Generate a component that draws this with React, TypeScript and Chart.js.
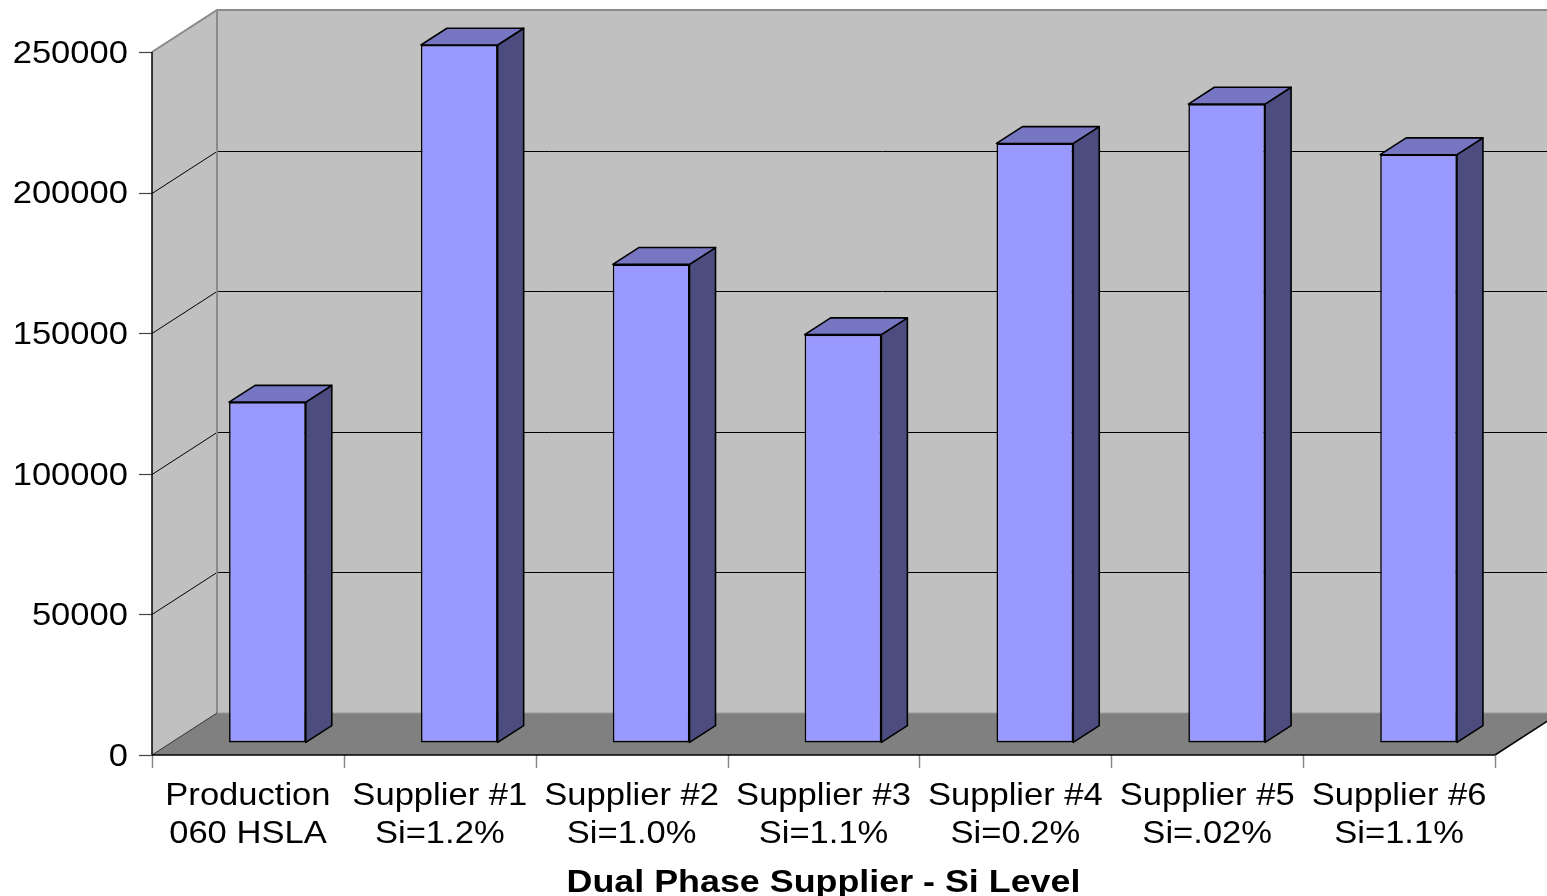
import React, { useEffect, useRef } from "react";
import { Chart, registerables } from "chart.js";

Chart.register(...registerables);

// ---- data ----
const categories: string[][] = [
  ["Production", "060 HSLA"],
  ["Supplier #1", "Si=1.2%"],
  ["Supplier #2", "Si=1.0%"],
  ["Supplier #3", "Si=1.1%"],
  ["Supplier #4", "Si=0.2%"],
  ["Supplier #5", "Si=.02%"],
  ["Supplier #6", "Si=1.1%"],
];
const values: number[] = [121000, 248000, 170000, 145000, 213000, 227000, 209000];
const yMin = 0;
const yMax = 250000;
const yStep = 50000;
const xAxisTitle = "Dual Phase Supplier - Si Level";

// ---- style ----
const DEPTH_X = 65;
const DEPTH_Y = -42;
const BAR_FRONT = 0.3;
const BAR_DEPTH = 0.4;
const FONT = '"Liberation Sans", Arial, sans-serif';
const STRETCH = 1.08;
const TITLE_STRETCH = 1.12;
const WALL = "#C0C0C0";
const FLOOR = "#808080";
const BAR_FRONT_COLOR = "#9999FF";
const BAR_TOP_COLOR = "#7676C2";
const BAR_SIDE_COLOR = "#4C4C7E";

function poly(ctx: CanvasRenderingContext2D, pts: number[][], fill?: string, stroke?: string, lw = 1) {
  ctx.beginPath();
  ctx.moveTo(pts[0][0], pts[0][1]);
  for (let i = 1; i < pts.length; i++) ctx.lineTo(pts[i][0], pts[i][1]);
  ctx.closePath();
  if (fill) {
    ctx.fillStyle = fill;
    ctx.fill();
  }
  if (stroke) {
    ctx.strokeStyle = stroke;
    ctx.lineWidth = lw;
    ctx.stroke();
  }
}

function line(ctx: CanvasRenderingContext2D, pts: number[][], color: string, lw: number) {
  ctx.beginPath();
  ctx.moveTo(pts[0][0], pts[0][1]);
  for (let i = 1; i < pts.length; i++) ctx.lineTo(pts[i][0], pts[i][1]);
  ctx.strokeStyle = color;
  ctx.lineWidth = lw;
  ctx.stroke();
}

function stretchedText(
  ctx: CanvasRenderingContext2D,
  text: string,
  x: number,
  y: number,
  align: CanvasTextAlign,
  font: string,
  stretch: number
) {
  ctx.save();
  ctx.translate(x, y);
  ctx.scale(stretch, 1);
  ctx.font = font;
  ctx.textAlign = align;
  ctx.textBaseline = "middle";
  ctx.fillStyle = "#000";
  ctx.fillText(text, 0, 0);
  ctx.restore();
}

const excel3d = {
  id: "excel3d",
  beforeDatasetsDraw(chart: any) {
    const ctx: CanvasRenderingContext2D = chart.ctx;
    const { left: L, right: R, top: T, bottom: B } = chart.chartArea;
    const ys = chart.scales.y;
    const dx = DEPTH_X,
      dy = DEPTH_Y;
    ctx.save();
    ctx.lineJoin = "miter";
    // walls
    poly(ctx, [[L, T], [L + dx, T + dy], [L + dx, B + dy], [L, B]], WALL);
    poly(ctx, [[L + dx, T + dy], [R + dx, T + dy], [R + dx, B + dy], [L + dx, B + dy]], WALL);
    // floor
    poly(ctx, [[L, B], [L + dx, B + dy], [R + dx, B + dy], [R, B]], FLOOR);
    line(ctx, [[L + dx, B + dy], [R + dx, B + dy]], "#9A9A9A", 1);
    // gridlines
    ys.ticks.forEach((t: any) => {
      if (t.value <= yMin || t.value >= yMax) return;
      const y = Math.round(ys.getPixelForValue(t.value)) + 0.5;
      line(ctx, [[L, y], [L + dx, y + dy], [R + dx, y + dy]], "#000", 1);
    });
    // wall edges
    line(ctx, [[L, T], [L + dx, T + dy], [R + dx, T + dy]], "#8A8A8A", 2);
    line(ctx, [[L + dx, T + dy], [L + dx, B + dy]], "#8A8A8A", 2);
    line(ctx, [[L, B], [L + dx, B + dy]], "#333", 1);
    line(ctx, [[R, B], [R + dx, B + dy]], "#000", 1.5);
    // y ticks
    ys.ticks.forEach((t: any) => {
      const y = Math.round(ys.getPixelForValue(t.value)) + 0.5;
      line(ctx, [[L - 13, y], [L, y]], "#444", 1.2);
    });
    // x ticks
    const n = categories.length;
    for (let i = 0; i <= n; i++) {
      const x = Math.round(L + ((R - L) * i) / n) + 0.5;
      line(ctx, [[x, B], [x, B + 13]], "#888", 1.5);
    }
    // axis lines
    line(ctx, [[L, T], [L, B]], "#000", 1.5);
    line(ctx, [[L, B], [R, B]], "#000", 1.5);
    ctx.restore();

    ctx.save();
    ctx.translate(DEPTH_X * BAR_FRONT, DEPTH_Y * BAR_FRONT);
  },
  afterDatasetsDraw(chart: any) {
    const ctx: CanvasRenderingContext2D = chart.ctx;
    ctx.restore();
    const ox = DEPTH_X * BAR_FRONT,
      oy = DEPTH_Y * BAR_FRONT;
    const sx = DEPTH_X * BAR_DEPTH,
      sy = DEPTH_Y * BAR_DEPTH;
    ctx.save();
    ctx.lineJoin = "round";
    chart.getDatasetMeta(0).data.forEach((el: any) => {
      const p = el.getProps(["x", "y", "base", "width"], true);
      const left = p.x - p.width / 2 + ox;
      const right = p.x + p.width / 2 + ox;
      const top = Math.min(p.y, p.base) + oy;
      const bottom = Math.max(p.y, p.base) + oy;
      poly(ctx, [[right, top], [right + sx, top + sy], [right + sx, bottom + sy], [right, bottom]], BAR_SIDE_COLOR, "#000", 1.6);
      poly(ctx, [[left, top], [left + sx, top + sy], [right + sx, top + sy], [right, top]], BAR_TOP_COLOR, "#000", 1.6);
    });
    ctx.restore();
  },
  afterDraw(chart: any) {
    const ctx: CanvasRenderingContext2D = chart.ctx;
    const { left: L, right: R, bottom: B } = chart.chartArea;
    const ys = chart.scales.y;
    const xs = chart.scales.x;
    const font = `32px ${FONT}`;
    ys.ticks.forEach((t: any) => {
      const y = ys.getPixelForValue(t.value);
      stretchedText(ctx, String(t.value), L - 24, y + 2, "right", font, STRETCH);
    });
    categories.forEach((lab, i) => {
      const x = xs.getPixelForValue(i);
      lab.forEach((s, j) => {
        stretchedText(ctx, s, x, B + 41 + j * 38, "center", font, STRETCH);
      });
    });
    stretchedText(ctx, xAxisTitle, (L + R) / 2, B + 128, "center", `bold 32px ${FONT}`, TITLE_STRETCH);
  },
};

export default function App() {
  const ref = useRef<HTMLCanvasElement | null>(null);
  useEffect(() => {
    if (!ref.current) return;
    const chart = new Chart(ref.current, {
      type: "bar",
      data: {
        labels: categories,
        datasets: [
          {
            data: values,
            backgroundColor: BAR_FRONT_COLOR,
            borderColor: "#000",
            borderWidth: 1.6,
            borderSkipped: false,
            barPercentage: 0.4,
            categoryPercentage: 1.0,
            clip: false as any,
          },
        ],
      },
      options: {
        responsive: false,
        animation: false,
        devicePixelRatio: 1,
        layout: { padding: { left: 152, top: 52, right: 52, bottom: 141 } },
        plugins: { legend: { display: false }, tooltip: { enabled: false }, title: { display: false } },
        scales: {
          x: { display: false },
          y: { display: false, min: yMin, max: yMax, ticks: { stepSize: yStep } },
        },
      },
      plugins: [excel3d],
    });
    return () => chart.destroy();
  }, []);
  return (
    <div style={{ position: "absolute", left: 0, top: 0, width: 1547, height: 896, background: "#fff" }}>
      <canvas ref={ref} width={1547} height={896} style={{ display: "block" }} />
    </div>
  );
}
